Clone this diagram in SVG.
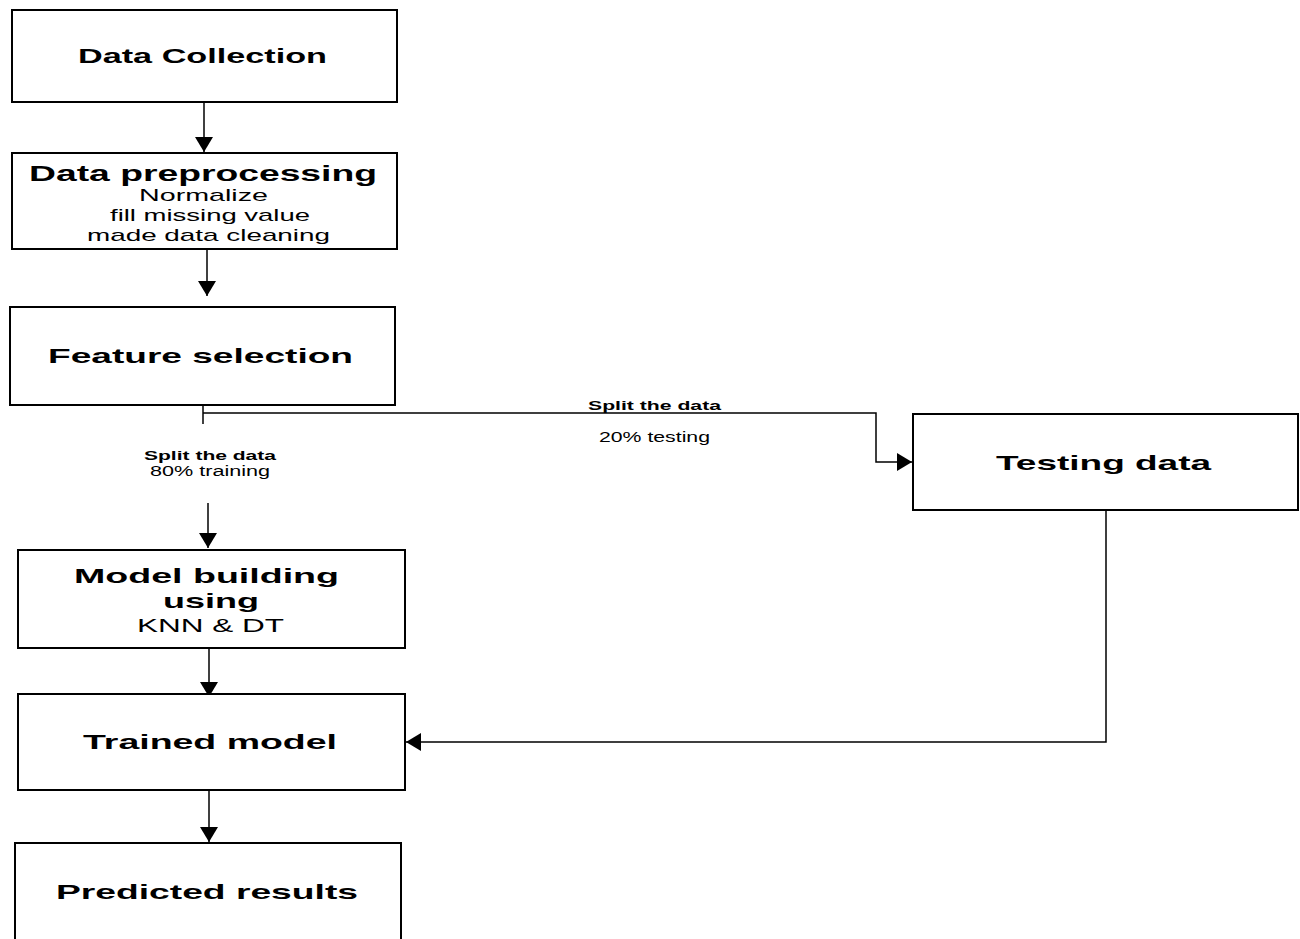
<svg xmlns="http://www.w3.org/2000/svg" width="1300" height="939" viewBox="0 0 1300 939">
<style>
.box{fill:#fff;stroke:#000;stroke-width:2}
.con{fill:none;stroke:#000;stroke-width:1.5}
.t{font-family:"Liberation Sans",Arial,sans-serif;font-weight:bold;fill:#000}
.n{font-family:"Liberation Sans",Arial,sans-serif;fill:#000}
</style>
<defs>
<marker id="ah" markerUnits="userSpaceOnUse" markerWidth="16" markerHeight="18" refX="15" refY="9" orient="auto">
<path d="M0,0 L15,9 L0,18 z" fill="#000"/>
</marker>
</defs>
<rect width="1300" height="939" fill="#fff"/>
<g id="connectors">
<line class="con" x1="204" y1="102" x2="204" y2="152" marker-end="url(#ah)"/>
<line class="con" x1="207" y1="248" x2="207" y2="296" marker-end="url(#ah)"/>
<line class="con" x1="203" y1="405" x2="203" y2="424"/>
<path class="con" d="M203,413 H876 V462 H912" marker-end="url(#ah)"/>
<line class="con" x1="208" y1="503" x2="208" y2="548" marker-end="url(#ah)"/>
<line class="con" x1="209" y1="648" x2="209" y2="697" marker-end="url(#ah)"/>
<path class="con" d="M1106,510 V742 H406" marker-end="url(#ah)"/>
<line class="con" x1="209" y1="790" x2="209" y2="842" marker-end="url(#ah)"/>
<text class="t" x="588" y="410" font-size="13" textLength="133" lengthAdjust="spacingAndGlyphs">Split the data</text>
<text class="n" x="599" y="442" font-size="14" textLength="111" lengthAdjust="spacingAndGlyphs">20% testing</text>
<text class="t" x="144" y="460" font-size="13" textLength="132" lengthAdjust="spacingAndGlyphs">Split the data</text>
<text class="n" x="150" y="476" font-size="14" textLength="120" lengthAdjust="spacingAndGlyphs">80% training</text>
</g>
<g id="data-collection">
<rect class="box" x="12" y="10" width="385" height="92"/>
<text class="t" x="78" y="63" font-size="21" textLength="249" lengthAdjust="spacingAndGlyphs">Data Collection</text>
</g>
<g id="data-preprocessing">
<rect class="box" x="12" y="153" width="385" height="96"/>
<text class="t" x="29" y="181" font-size="22" textLength="348" lengthAdjust="spacingAndGlyphs">Data preprocessing</text>
<text class="n" x="139" y="201" font-size="17" textLength="129" lengthAdjust="spacingAndGlyphs">Normalize</text>
<text class="n" x="110" y="221" font-size="17" textLength="200" lengthAdjust="spacingAndGlyphs">fill missing value</text>
<text class="n" x="87" y="241" font-size="17" textLength="243" lengthAdjust="spacingAndGlyphs">made data cleaning</text>
</g>
<g id="feature-selection">
<rect class="box" x="10" y="307" width="385" height="98"/>
<text class="t" x="48" y="363" font-size="21" textLength="305" lengthAdjust="spacingAndGlyphs">Feature selection</text>
</g>
<g id="testing-data">
<rect class="box" x="913" y="414" width="385" height="96"/>
<text class="t" x="996" y="470" font-size="21" textLength="215" lengthAdjust="spacingAndGlyphs">Testing data</text>
</g>
<g id="model-building">
<rect class="box" x="18" y="550" width="387" height="98"/>
<text class="t" x="74" y="583" font-size="21" textLength="265" lengthAdjust="spacingAndGlyphs">Model building</text>
<text class="t" x="163" y="608" font-size="21" textLength="96" lengthAdjust="spacingAndGlyphs">using</text>
<text class="n" x="137" y="632" font-size="18" textLength="147" lengthAdjust="spacingAndGlyphs">KNN &amp; DT</text>
</g>
<g id="trained-model">
<rect class="box" x="18" y="694" width="387" height="96"/>
<text class="t" x="83" y="749" font-size="21" textLength="254" lengthAdjust="spacingAndGlyphs">Trained model</text>
</g>
<g id="predicted-results">
<rect class="box" x="15" y="843" width="386" height="110"/>
<text class="t" x="56" y="899" font-size="21" textLength="302" lengthAdjust="spacingAndGlyphs">Predicted results</text>
</g>
</svg>
